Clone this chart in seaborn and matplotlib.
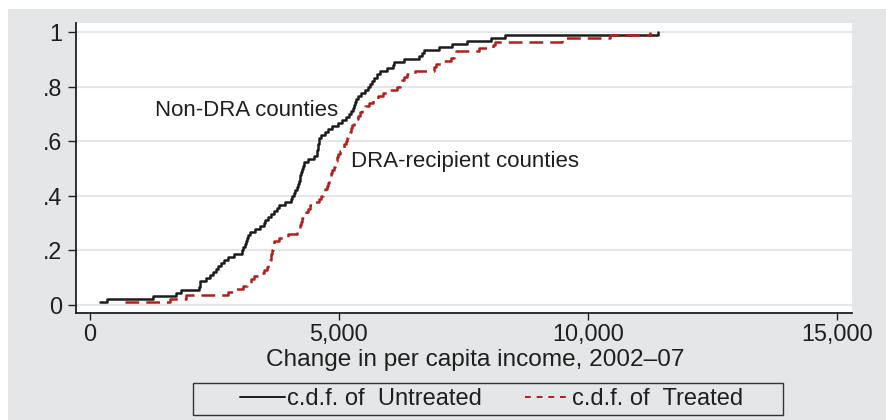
import numpy as np
import pandas as pd
import matplotlib
matplotlib.use("Agg")
import matplotlib.pyplot as plt
from matplotlib.patches import Rectangle
from matplotlib.lines import Line2D
import seaborn as sns

# Change in per capita income, 2002-07, one value per county
untreated = [200, 340, 1270, 1730, 1830, 2190, 2200, 2210, 2330, 2410,
             2470, 2530, 2580, 2640, 2690, 2780, 2900, 3050, 3080, 3110,
             3130, 3160, 3170, 3220, 3320, 3410, 3490, 3520, 3570, 3630,
             3690, 3750, 3800, 3910, 4030, 4060, 4090, 4120, 4150, 4170,
             4190, 4210, 4220, 4240, 4260, 4270, 4300, 4380, 4500, 4560,
             4570, 4580, 4590, 4600, 4610, 4650, 4720, 4790, 4870, 4980,
             5070, 5150, 5200, 5250, 5290, 5310, 5330, 5350, 5380, 5450,
             5530, 5580, 5620, 5660, 5710, 5770, 5830, 5960, 6080, 6110,
             6310, 6600, 6670, 6710, 7020, 7270, 7580, 8060, 8340, 11420]
treated = [700, 1600, 1920, 2780, 2940, 3080, 3150, 3230, 3290, 3370,
           3500, 3560, 3580, 3610, 3630, 3640, 3660, 3670, 3690, 3700,
           3800, 3970, 4160, 4180, 4210, 4230, 4260, 4300, 4340, 4380,
           4420, 4520, 4600, 4640, 4680, 4720, 4760, 4780, 4800, 4820,
           4850, 4870, 4900, 4930, 4950, 4970, 4980, 5020, 5070, 5110,
           5140, 5170, 5190, 5220, 5250, 5270, 5310, 5350, 5380, 5420,
           5460, 5520, 5600, 5690, 5790, 5880, 5960, 6160, 6230, 6270,
           6310, 6360, 6530, 6910, 6960, 7120, 7260, 7310, 7350, 7810,
           8100, 8140, 9480, 10450, 11250]

groups = ["Untreated", "Treated"]
legend_labels = ["c.d.f. of  Untreated", "c.d.f. of  Treated"]
x_ticks = [0, 5000, 10000, 15000]
x_tick_labels = ["0", "5,000", "10,000", "15,000"]
y_ticks = [0, 0.2, 0.4, 0.6, 0.8, 1.0]
y_tick_labels = ["0", ".2", ".4", ".6", ".8", "1"]
x_label = "Change in per capita income, 2002\u201307"
notes = [("Non-DRA counties", 1306, 0.714),
         ("DRA-recipient counties", 5243, 0.524)]

sns.set_theme(style="ticks")
plt.rcParams["font.family"] = ["Liberation Sans", "DejaVu Sans"]

BG = "#e5e6e8"
INK = "#1f1f1f"
colors = {"Untreated": "#1c1c1c", "Treated": "#b0201c"}

W, H = 886, 420
fig = plt.figure(figsize=(W / 100, H / 100), dpi=100, facecolor=BG)
# thin white margin along the top and left edges
fig.patches.append(Rectangle((0, 1 - 9 / H), 1, 9 / H, transform=fig.transFigure,
                             facecolor="white", edgecolor="none"))
fig.patches.append(Rectangle((0, 0), 8 / W, 1, transform=fig.transFigure,
                             facecolor="white", edgecolor="none"))

ax = fig.add_axes([76 / W, 1 - 313 / H, (852 - 76) / W, (313 - 23) / H])
ax.set_facecolor("white")

df = pd.DataFrame({
    "income_change": untreated + treated,
    "group": ["Untreated"] * len(untreated) + ["Treated"] * len(treated),
})
df["cdf"] = df.groupby("group")["income_change"].rank(method="max", pct=True)

sns.lineplot(data=df, x="income_change", y="cdf", hue="group", style="group",
             hue_order=groups, style_order=groups, palette=colors,
             dashes={"Untreated": "", "Treated": (5.5, 2.8)},
             drawstyle="steps-post", estimator=None, linewidth=1.8,
             legend=False, ax=ax)

ax.set_xlim(-281, 15307)
ax.set_ylim(-0.029, 1.033)
ax.set_xticks(x_ticks)
ax.set_xticklabels(x_tick_labels)
ax.set_yticks(y_ticks)
ax.set_yticklabels(y_tick_labels)
ax.yaxis.grid(True, color="#e6e6e6", linewidth=1.6)
ax.xaxis.grid(False)
ax.set_axisbelow(True)

for side in ["top", "right"]:
    ax.spines[side].set_visible(False)
for side in ["left", "bottom"]:
    ax.spines[side].set_color(INK)
    ax.spines[side].set_linewidth(1.3)

ax.tick_params(axis="both", direction="out", length=6, width=1.0, color=INK,
               labelsize=16.8, labelcolor=INK, pad=4)
ax.tick_params(axis="x", length=5, pad=2)
ax.set_xlabel(x_label, fontsize=17.6, color=INK)
ax.xaxis.set_label_coords(0.514, -0.125)
ax.set_ylabel("")

for text, x, y in notes:
    ax.text(x, y, text, fontsize=16, color=INK, ha="left", va="center")

# legend box with the keys laid out inside it
fig.patches.append(Rectangle((193 / W, 1 - 415 / H), (783 - 193) / W, (415 - 383) / H,
                             transform=fig.transFigure, facecolor=BG,
                             edgecolor="#333333", linewidth=1.0))
handles = [Line2D([], [], color=colors["Untreated"], linewidth=1.4),
           Line2D([], [], color=colors["Treated"], linewidth=1.4, dashes=(3, 3))]
leg = fig.legend(handles, legend_labels, loc="center left",
                 bbox_to_anchor=(240 / W, 1 - 399 / H),
                 ncol=2, frameon=False, handlelength=1.9, handletextpad=0.08,
                 columnspacing=1.85, fontsize=17, borderpad=0, borderaxespad=0)
for t in leg.get_texts():
    t.set_color(INK)

fig.savefig("out.png", dpi=100, facecolor=BG)
